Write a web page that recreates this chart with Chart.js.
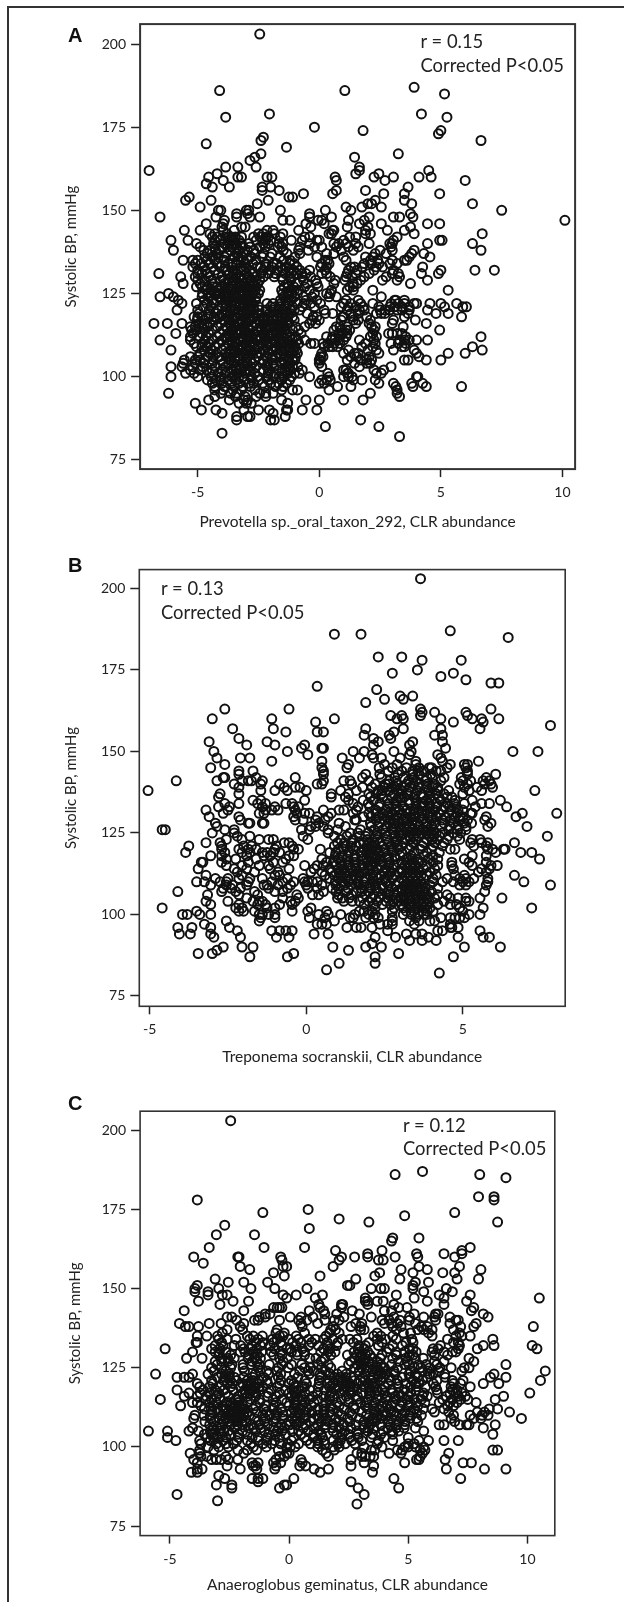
<!DOCTYPE html>
<html><head><meta charset="utf-8">
<style>
html,body{margin:0;padding:0;background:#fff;width:624px;height:1602px;overflow:hidden}
#page{position:absolute;left:0;top:0;width:624px;height:1602px;filter:blur(0.35px)}
canvas{position:absolute;left:0}
.line{position:absolute;background:#333}
.t{position:absolute;font-family:Lato,sans-serif;font-size:18.4px;color:#222;white-space:nowrap;line-height:1;transform:translateY(-50%)}
.p{position:absolute;font-family:"Liberation Sans",sans-serif;font-weight:bold;font-size:20px;color:#111;line-height:1;transform:translateY(-50%)}
</style>
<script src="https://cdn.jsdelivr.net/npm/chart.js@4/dist/chart.umd.min.js"></script>
</head><body><div id="page">
<div class="line" style="left:7px;top:6px;width:2px;height:1596px"></div>
<div class="line" style="left:7px;top:6px;width:617px;height:2px"></div>
<div class="p" style="left:68px;top:34.5px">A</div>
<div class="p" style="left:68px;top:565px">B</div>
<div class="p" style="left:68px;top:1103px">C</div>
<canvas id="ca"></canvas><canvas id="cb"></canvas><canvas id="cc"></canvas>
<div class="t" style="left:420.5px;top:40.5px">r = 0.15</div>
<div class="t" style="left:420.5px;top:64.5px">Corrected P&lt;0.05</div>
<div class="t" style="left:161px;top:588px">r = 0.13</div>
<div class="t" style="left:161px;top:612px">Corrected P&lt;0.05</div>
<div class="t" style="left:403px;top:1125px">r = 0.12</div>
<div class="t" style="left:403px;top:1148px">Corrected P&lt;0.05</div>
</div>
<script>
// Each row: first number = systolic BP (mmHg), the rest = CLR abundance of each sample at that BP.
const rowsA=[[203,-2.45],[187,3.9],[186,-4.1,1.05],[185,5.15],[179,-2.05,4.2],[178,-3.85,5.25],[175,-0.2],[174,1.8,5],[173,4.9],[172,-2.3],[171,-2.4,6.65],[170,-4.65],[169,-1.35],[167,-2.4,3.25],[166,-2.65,1.45],[165,-2.85],[163,-3.85,-3.35,-2.6,1.65],[162,-7,1.65,4.5],[161,-4.2,1.5,2.45],[160,-4.55,-3.35,-3.2,-2.15,-1.95,0.65,2.25,3.05,4.1,4.6],[159,-3.95,0.7,2.7,6],[158,-4.65],[157,-4.4,-3.7,-2.35,-2,3.65],[156,-2.35,-1.65,0.7,1.9],[155,-0.65,0.55,2.65,3.5,4.95],[154,-5.35,-1.25,-1.1],[153,-5.5,-4.45,-2.1,2.3,3.5],[152,-2.55,2,2.15,3.8,6.3],[151,-4.9,1.1,1.75,2.55],[150,-4.15,-4.05,-3,-2.9,-1.6,0.25,1.3,7.5],[149,-3.4,-2.95,-0.4,3.75],[148,-6.55,-4.25,-3.4,-2.85,-2.45,-0.4,0.5,2.05,3.05,3.3,3.85],[147,-3.9,-1.5,-1.2,-0.05,0.1,1.2,1.85,10.1],[146,-4.65,-3.95,-0.55,0.2,1.65,2.55,4.45,4.95],[145,-4,-3.2,-3.05,-0.35,1.15,2,3.75],[144,-5.55,-4.9,-3.95,-3.5,-2.15,-1.9,-0.85,0.55,0.6,1.9,2.8,3.5],[143,-4.5,-4.3,-3.8,-2.5,-2.3,-1.85,-1.5,0.4,0.5,1.9,2.1,3.9,6.7],[142,-4.4,-4.2,-3.85,-3.6,-3.45,-3.2,-2.7,-2.2,-2.1,-1.6,-0.6,-0.4,1.25,1.5,3.2,-3.72,-2.44],[141,-6.1,-5.4,-4.3,-4.1,-3.75,-3.5,-3.3,-2.6,-2.2,-2,-1.15,-0.7,-0.1,0,1,3.05,4.95,5.05,-3.62,-2.32],[140,-5.05,-4.35,-3.9,-3.7,-3.45,-3.2,-2.9,-2.3,-2.1,-1.65,-1.5,-0.4,0.6,0.8,1.1,1.5,2.05,2.9,3,4.45,6.3,-3.57],[139,-4.9,-4.3,-4,-3.6,-3.4,-3.15,-2.85,-2.45,-1.7,-1.55,-0.8,-0.2,0.1,0.7,1.2,1.6,2.95,-3.78,-2.22],[138,-6,-4.75,-4.5,-4.1,-3.65,-3.3,-2.95,-2.7,-0.85,-0.45,0.9,1.4,2.5,3,3.9,6.65,-4.27,-1.48],[137,-4.6,-4.2,-3.8,-3.4,-2.65,-2.3,-1.95,-0.8,0.3,0.6,2.3,2.75,3.8,4.3,-3.12,-1.33],[136,-4.4,-3.9,-3.5,-3.15,-2.8,-1,-0.1,1,1.9,2.2,3.7,4.55,-4.71,-3.33,-1.62],[135,-5.6,-5.2,-5,-4.3,-3.9,-3.35,-2.95,-1.2,0.25,0.35,1.1,2.1,2.4,3,3.5,3.6,-4.62,-3.12,-2.61,-1.47],[134,-5.1,-4.85,-4.2,-3.75,-3.4,-3.05,-1.9,-1.75,0.1,0.4,1.85,2.15,2.45,2.9,3.2,-4.53,-3.58,-2.73,-2.2],[133,-5.2,-4.75,-4.1,-3.6,-3.2,-2.2,-1.95,-1.6,-1.35,0.05,0.3,1.3,1.45,1.75,2.35,2.6,4.25,-4.38,-3.02,-2.56],[132,-5,-4.7,-4.3,-3.85,-3.55,-3.1,-2.3,-2,-1.75,-1.5,-1.05,-0.8,-0.4,0.25,1.2,1.55,2.25,3.05,5,6.4,7.2,-3.23,-2.84,-1.22],[131,-6.6,-5,-4.6,-4.15,-3.7,-3.4,-3,-2.4,-2.1,-1.8,-1.4,-0.95,-0.55,0.1,0.3,1.15,1.5,2.05,3,3.25,4.2,4.9,-3.53,-2.71],[130,-5.7,-5.1,-4.55,-4,-3.6,-3.25,-2.9,-2.3,-1.85,-1.55,-0.7,-0.35,0.45,1.1,1.35,1.85,2.75,3.3,-3.44,-2.63,-1.21],[129,-5,-4.45,-4.05,-3.5,-3.2,-2.8,-2.45,-1.5,-0.65,-0.15,0.65,1.05,1.7,2.6,3.2,4.45,-3.73,-2.97,-2.61],[128,-5.6,-4.9,-4.4,-3.9,-3.55,-3.1,-2.7,-1.3,-0.9,-0.5,-0.1,0.6,1.4,1.55,3.75,-3.26,-2.88,-2.53],[127,-5.05,-4.6,-4.2,-3.75,-3.35,-3,-2.6,-1.45,-1.05,-0.6,-0.05,1.25,1.4,-3.57,-3.12,-2.82,-4.02],[126,-4.65,-4.2,-3.6,-3.2,-2.8,-2.45,-1.55,-1.2,-0.85,-0.4,0.5,1.15,1.4,2.2,5.3,-3.41,-2.97,-2.63,-3.87],[125,-6.2,-4.8,-4.3,-3.95,-3.5,-3.15,-2.75,-2.5,-1.5,-1.3,-0.9,-0.2,0.3,0.45,-3.72,-3.3,-2.93,-4.13],[124,-6.55,-6,-4.55,-4.15,-3.7,-3.4,-3,-2.6,-1.25,-0.65,-0.3,0.4,0.7,2.55,-3.53,-3.17,-2.81,-3.89],[123,-5.8,-4.4,-4,-3.5,-3.2,-2.85,-1.6,-1.15,-0.55,-0.1,1.1,1.6,3.1,3.15,3.5,-3.71,-3.02,-2.62,-4.22],[122,-5.65,-5.05,-4.35,-3.85,-3.45,-3.1,-2.75,-2.15,-1.9,-1.3,-0.9,-0.35,0.05,1,1.3,1.7,2.2,2.95,3.25,3.5,3.9,4,4.55,5,5.65,-3.62,-3.27,-2.93],[121,-4.45,-4,-3.6,-3.3,-2.9,-2.5,-2,-1.65,-1.1,-0.7,-0.2,0.9,1.2,1.5,1.8,2.45,2.9,3.1,3.4,3.7,5.15,5.9,6.05,-3.82,-3.14,-2.71],[120,-5.85,-5,-4.2,-3.8,-3.5,-3.05,-2.7,-2.2,-1.9,-1.5,-1.2,-0.8,0.2,1.15,1.65,1.85,2.5,2.7,2.9,3.2,3.4,3.7,4.45,-3.33,-2.88,-2.47],[119,-4.95,-4.5,-4,-3.65,-3.35,-2.9,-2.5,-2.05,-1.7,-1.4,-0.5,0.25,0.55,1.3,1.6,2.35,2.55,2.7,3.65,4.8,5.3,-3.83,-3.12,-2.71],[118,-5.15,-5,-4.55,-4.1,-3.75,-3.4,-3.1,-2.7,-2.3,-1.9,-1.55,-1.1,-0.25,-0.1,0.95,1,1.4,1.95,3.5,5.85,-3.57,-2.91,-2.1,-4.33],[117,-4.75,-4.3,-3.9,-3.55,-3.2,-2.85,-2.5,-2.1,-1.75,-1.3,-0.3,0,0.9,1.4,1.6,2.1,3.05,3.95,-3.71,-3.03,-2.33,-1.93],[116,-6.8,-6.25,-5.65,-4.95,-4.5,-4.05,-3.7,-3.35,-3,-2.6,-2.25,-1.9,-1.5,-0.4,-0.15,1.5,2.05,3,4.4,-3.52,-3.17,-2.43],[115,-5.3,-5.1,-4.6,-4.2,-3.8,-3.45,-3.15,-2.75,-2.4,-2.05,-1.65,-0.6,0.7,0.85,1.15,2.15,2.3,3.45,-3.62,-2.92,-2.23,-1.85],[114,-5.25,-5.05,-4.4,-3.95,-3.6,-3.25,-2.9,-2.55,-2.2,-1.8,-1.4,-1.1,0.6,0.9,1.1,1.25,2.25,4.95,-3.42,-3.07,-2.38,-2.03],[113,-5.9,-5.2,-4.55,-4.1,-3.75,-3.4,-3.05,-2.7,-2.3,-1.95,-1.55,-0.75,0.8,0.95,1.15,2.2,2.85,3,3.2,3.4,-3.58,-2.87,-2.12,-3.22],[112,-5.3,-4.65,-4.2,-3.85,-3.5,-3.15,-2.8,-2.4,-2.05,-1.7,-1.2,0.3,0.55,0.85,1.1,2.1,2.35,3.55,6.65,-3.67,-2.98,-2.59,-2.23],[111,-6.55,-5.3,-4.4,-4,-3.6,-3.3,-2.95,-2.6,-2.2,-1.85,-1.3,-0.9,-0.6,0.5,0.8,1,1.65,2.25,3.3,3.5,3.7,4,4.45,-3.78,-3.13,-2.43],[110,-5.15,-4.55,-4.15,-3.75,-3.4,-3.05,-2.7,-2.35,-2,-1.55,-1.15,-0.85,-0.35,-0.2,0.15,0.35,0.6,0.85,1.9,2.3,2.95,3.25,3.55,-3.58,-2.87,-2.18],[109,-5.05,-4.6,-4.3,-3.85,-3.5,-3.2,-2.85,-2.5,-2.15,-1.8,-1.4,-1,0.2,0.4,0.55,0.75,1.75,2.2,3.4,3.5,6.3,-3.33,-2.99,-2.67],[108,-6.1,-4.45,-4,-3.65,-3.3,-3,-2.65,-2.3,-1.9,-1.6,-1.05,-0.95,1.2,2,2.35,3.05,3.9,6.7,-3.47,-2.83,-2.12],[107,-4.9,-4.5,-3.85,-3.5,-3.2,-2.8,-2.4,-2.1,-1.7,-0.9,0.1,1,1.45,1.6,2.45,4,5.3,6,-3.68,-3.03,-2.57],[106,-5.3,-5,-4.6,-4.1,-3.65,-3.35,-2.95,-2.55,-2.2,-1.6,-1.25,0.05,0.15,1.3,1.55,2.05,4.1,-3.82,-3.13,-1.93],[105,-5.55,-5.1,-4.9,-4.7,-4.05,-3.7,-3.3,-3,-2.65,-2.3,-1.1,-1,0,0.05,1.15,1.7,1.95,2.15,3.5,3.65,4.4,5,-3.48,-2.83,-1.47],[104,-5.6,-5.1,-4.75,-3.95,-3.5,-3.15,-2.75,-2.35,-1.9,-1.2,0,1.45,1.95,2.1,-3.72,-2.97,-1.55],[103,-6.1,-5.65,-5.2,-4.8,-3.85,-3.45,-3.1,-2.6,-2.15,-1.25,-1.1,0.1,1.65,2.95,-3.27,-2.82,-1.35],[102,-5.3,-4.9,-4.4,-4,-3.6,-3.25,-2.85,-2.3,-1.4,-0.7,1,1.1,2.25,2.65,-3.42,-3.03,-1.19],[101,-5.5,-5.15,-4.5,-3.85,-3.4,-3.05,-2.65,-2.1,-1.55,-1.3,0.35,1.15,1.2,2.35,2.55,-3.67,-1.02],[100,-6.1,-5,-4.45,-4.05,-3.6,-3.3,-2.8,-1.65,-1.45,-1.15,-0.4,0.4,1,1.2,1.35,4,4.05,-3.13],[99,-4.6,-4.25,-3.75,-3.45,-3.1,-2.5,-2.1,-1.55,0.1,0.3,0.45,1.4,1.75,2.3],[98,-4.4,-4,-3.6,-3.3,-2.9,-2.7,-2,-1.35,0,0.2,2.45,3.05,3.8,4.25],[97,-4.3,-3.9,-3.5,-3.15,-2.25,-1.8,0.75,1.3,3.15,3.85,4.4,5.85],[96,-4.3,-3.95,-3.55,-3.2,-2.65,-1.55,-1.1,-0.9,0.4,3.2],[95,-6.2,-4.05,-3.65,-3.4,-2.45,-2.2,-1.9,2.1,3.2],[94,-4.3,-3.45,-3.05,-2.6,-2.2,3.3],[93,-4.55,-3.7,-3.1,-2.95,-1.55,-0.55,0,1,1.8],[92,-5.1,-3.3,-3,-2.8,-1.3],[90,-4.85,-4.25,-3.1,-2.5,-2.05,-1.35,-1.3,-0.7,-0.1],[89,-4,-1.9],[88,-3.4,-2.95,-2.85,-1.4],[87,-3.4,-2,-1.85,1.7],[85,0.25,2.45],[83,-4],[82,3.3]];
const moreA=[[136,-4.15,-2.35,-2.02],[134,-4.48,-1.22,-1.03],[133,-3.86,-2.42,-0.92],[131,-4.83,-1.16,-0.72],[129,-4.72,-3.92,-1.17],[127,-4.82,-4.37,-1.28],[126,-4.42,-1.03],[125,-4.57,-1.12],[124,-4.82,-1.47,-1.03],[123,-4.73,-4.22,-1.38],[122,-4.63,-1.58,-0.62],[121,-4.77,-1.82,-1.38],[120,-4.53,-1.68,-1.03],[119,-4.27,-1.52,-1.18],[118,-4.82,-1.72,-1.32],[117,-5.02,-1.52,-1.03],[116,-4.73,-1.72,-1.27],[115,-4.83,-1.43,-0.97],[114,-4.72,-1.58,-0.85],[113,-4.82,-1.72,-1.32],[112,-4.92,-1.47,-0.98],[111,-4.7,-1.58,-1.1],[110,-4.82,-1.78,-1.33],[109,-4.83,-1.58,-1.18],[108,-4.73,-1.42,-1.22],[107,-4.23,-1.47,-1.12],[106,-4.37,-1.78,-0.98],[105,-4.37,-1.87,-1.28],[104,-4.4,-2.12,-1.42],[103,-4.27,-1.87,-0.88],[102,-4.63,-2.07,-1.67],[101,-4.17,-1.83,-0.82],[100,-2.53,-2.12,-1.9],[99,-4.03,-2.77,-1.22],[98,-2.33,-1.67],[97,-2.83,-1.48]];
const rowsB=[[203,3.65],[187,4.6],[186,0.9,1.75],[185,6.45],[179,2.3,3.05],[178,3.7,4.95],[175,3.55],[174,2.75,4.7],[173,4.3],[172,5.1],[171,5.9,6.15],[170,0.35],[169,2.25],[167,3,3.4],[166,2.5,3.1],[165,1.9],[163,-2.6,-0.55,3.65,5.9],[162,3.7,4.1,5.1],[161,2.7,3.05,3.65,5.15],[160,-3,-1.1,0.9,2.9,3.1,4.3,5.3,5.6,6.15],[159,0.3,4.7,5.65],[158,7.8],[157,-2.35,-1.05,1.9,3.1,4.3,5.55],[156,-0.65,0.35,0.55,2.8],[155,1.85,2.65,4.1,4.35],[154,-2.15,2.15,2.7],[153,-3.1,-1.25,2.3,3.4,4.35],[152,-1.9,-1,-0.05,2.15,3.3],[151,-0.15,0.5,0.55,4.45],[150,-2.95,-0.6,1.5,1.85,2.8,3.35,6.6,7.4],[149,0.05,2.1,3.3,4.2],[148,-2.85,-2.1,-1.8,1.15,1.7,2.15,2.4,3,4.3],[147,-1.1,0.5,3.5,4.35,5.5],[146,-2.6,1.35,2.5,2.9,3.5,4.6,5.05,5.15],[145,-3.05,0.5,1.3,2.75,3.2,3.6,4,4.5,5.1],[144,-2.15,-1.7,0.55,3.05,3.4,3.75,4.15,4.3,5.15],[143,-2.15,0.55,1.9,2.35,3.4,3.6,5.15,6.05],[142,-2.65,-2.6,-1.6,-0.35,1.8,2.4,3.1,3.85,4.4,4.95,5.75],[141,-4.15,-2.85,-2.05,-1.85,-1.75,-1.4,0.55,1.2,1.4,2,2.65,3.5,4.3,5,5.25,5.65,5.85],[140,-2.3,-1.45,-0.85,0.35,0.5,1.45,2.2,2.9,3.2,3.6,4.1,4.9,5.15,5.7,5.9,2.53],[139,-2.15,-0.7,-0.35,-0.2,1.8,2.1,2.5,2.85,3.3,3.85,4.2,5.05,5.45,5.95,3.57],[138,-5.05,-1.45,-1,-0.6,0,1.1,1.6,2.3,2.65,3.05,3.55,3.9,4.55,5.2,5.6,7.3,2.92],[137,-2.75,-2.15,0.8,1.35,2,2.4,2.8,3.25,3.7,4.15,4.4,5,3.48],[136,-2.8,0.8,1.25,2.05,2.45,2.95,3.45,3.95,4.5,4.65,3.13,3.72],[135,-1.7,-1.45,-0.05,1.35,2.15,2.6,3.05,3.5,4,4.3,4.75,5.3,6.2,3.27,3.83],[134,-2.6,-2.15,-1.55,-1.3,-0.65,-0.45,1.5,2.35,2.85,3.3,3.7,4.15,4.5,5.05,5.6,5.85,3.51,3.93],[133,-2.8,-2.45,-1.4,-1,-0.4,-0.25,1.65,2.6,3.1,3.5,3.95,4.4,4.8,5.4,6.4,2.33,3.72,4.17],[132,-3.2,-2.5,-1.3,-1.1,-0.9,-0.35,0.55,1.05,1.2,1.6,2.55,2.85,3.2,3.6,3.85,4.1,4.35,4.6,5,2.97,3.43],[131,-2.65,-1.5,-1.35,-0.3,-0.05,0.1,0.8,1.5,2,2.45,2.75,3.05,3.45,3.7,3.95,4.25,4.55,5.25,5.3,6.9,8,2.62,3.23],[130,-3.1,-2.15,-0.4,0.35,0.7,2.3,2.6,2.9,3.15,3.35,3.6,3.9,4.15,4.45,4.75,5,5.75,6.7,3.48,4.03],[129,-2.1,-0.35,-0.1,0.3,0.6,1.55,1.6,2.5,2.8,3.1,3.4,3.7,4,4.35,4.6,4.9,5.7,2.68,3.22],[128,-2.9,-1.85,-1.8,-1.4,-1.35,0.4,1.05,2.35,2.65,2.95,3.2,3.55,3.85,4.1,4.4,4.7,5.05,5.9,2.82,3.38],[127,-2.85,0.15,0.3,0.55,1.25,2.3,2.55,3,3.3,3.6,4,4.3,4.6,5.1,5.8,7.05,2.77,3.13,3.83],[126,-4.6,-4.5,-2.6,-2.3,-0.15,0.1,0.7,1,2.45,2.75,3.05,3.4,3.7,4.05,4.55,5.1,3.21,3.57,3.87],[125,-3,-2.3,0.7,1.4,1.65,2.8,3.1,3.35,3.65,4,4.35,4.7,2.97,3.52,3.84,4.15],[124,-2.2,-1.8,-0.1,0.9,1.3,1.7,1.9,3,3.3,3.6,3.95,4.25,4.55,7.7,2.82,3.45,4.07],[123,-2.55,-2.05,-1.5,-1.2,-1.05,0.05,1.1,1.5,1.95,2.9,3.15,3.5,3.85,4.2,4.5,4.9,5.3,5.55,3.33,4.03],[122,-3.2,-2.75,-0.7,-0.55,1,1.45,1.7,2,2.35,2.85,3.1,3.4,3.75,4.1,4.4,5.25,5.6,5.8,6.65,1.83,2.17],[121,-3.75,-2.7,-2,-1.75,-0.95,-0.45,0.9,1.25,1.6,1.95,2.2,2.7,3.05,3.35,3.7,4.05,4.35,5.35,5.75,2.08,2.43],[120,-2.7,-2.15,-1.85,-1.6,-1,-0.4,-0.25,0.45,1.2,1.5,1.85,2.1,2.5,2.95,3.3,3.65,4,4.6,4.75,5.8,5.95,6.3,6.35,1.97,2.27],[119,-3.85,-2.6,-2.05,-1.8,-1.4,-1.25,-1.05,-0.85,0.75,0.95,1.35,1.75,2.05,2.3,2.75,3.05,3.45,3.85,4.25,6.05,6.85,7.2,1.93,2.47],[118,-3.05,-2.7,-1.9,-1.35,-1.15,-0.55,-0.4,1.15,1.55,2,2.2,2.6,3,3.35,3.75,4.05,5.3,5.75,1.77,2.37],[117,-2.55,-2.25,-1.6,-0.65,0.5,1.3,1.8,2.1,2.35,2.85,3.2,3.55,3.9,4.2,5.05,7.45,1.93,2.23,3.38],[116,-3.35,-3.3,-2.7,-1.85,-1.05,-0.75,0.65,1.1,1.55,1.95,2.2,2.65,3.05,3.4,3.7,4.05,4.65,5.2,5.75,2.07,3.23,3.57],[115,-2.55,-2.05,-1.5,-1.2,-0.05,0.35,0.55,0.95,1.35,1.8,2.1,2.4,2.8,3.15,3.5,3.85,4.2,4.65,5.3,5.9,6.1,1.97,3.33],[114,-3.45,-2.3,-1.9,-1.15,-0.55,0.25,0.75,1.2,1.6,2,2.3,2.75,3.05,3.4,3.75,4.1,4.7,5.6,5.85,1.83,3.23,3.58],[113,-2.2,-1.65,-0.9,0.15,0.5,1.05,1.5,1.85,2.15,2.5,2.95,3.25,3.6,3.95,5.5,5.75,3.07,3.42],[112,-3.2,-2.05,-1,-0.85,0.6,0.9,1.3,1.7,2.05,2.4,2.85,3.15,3.5,3.85,4.15,4.75,5.05,6.65,3.33,3.67],[111,-2.9,-2.5,-2.15,-1.8,-1.4,-0.6,-0.1,0.75,1.25,1.6,1.9,2.3,2.75,3.05,3.4,3.75,4.05,4.5,4.9,5.1,5.35,5.8,3.23,3.57],[110,-3.5,-3.25,-2.75,-2.55,-1.85,-1.1,-0.75,-0.4,-0.05,0.05,0.2,0.35,1.35,1.65,2.15,2.55,2.95,3.3,3.65,4.05,4.35,4.7,5,5.2,5.8,6.95,3.12,3.47],[109,-3.05,-2.55,-2.35,-1.9,-1.35,-1.25,-0.9,-0.5,0,0.5,0.95,1.45,1.85,2.2,2.85,3.15,3.5,3.95,4.9,5.1,5.75,7.8,2.03,3.33,3.72],[108,-2.65,-2.4,-2.1,-1.2,-0.6,0.05,0.35,1.05,1.75,2.05,2.45,3.05,3.4,3.8,4.2,2.23,3.22,3.63],[107,-4.1,-2.7,-2.25,-1.65,-1,-0.75,0.55,0.95,1.6,2,2.3,2.9,3.25,3.6,4,5.7,3.07,3.43,3.78],[106,-3.15,-2.15,-1.55,-0.3,0.2,0.4,1.45,1.9,2.15,2.8,3.1,3.5,3.85,4.2,4.5,3.28,3.67],[105,-1.9,-0.75,-0.25,1,1.15,1.8,2.1,2.6,3,3.3,3.7,4.1,4.6,4.85,5.1,5.55,6.25,3.13,3.52,3.88],[104,-3.2,-2.5,-1.7,-1.5,-1.4,-0.5,-0.35,1.2,1.7,2,2.55,2.95,3.35,3.75,4.4,5.1,5.2,3.13,3.57,3.93],[103,-3.05,-2.15,-1.55,-1.3,-0.85,-0.45,1.85,2.7,3.05,3.45,3.85,4.2,4.6,4.8,3.27,3.67],[102,-4.6,-2.25,-2.05,-1.25,-1,0.15,2.2,2.8,3.1,3.55,3.95,4.9,5.65,7.2,3.33,3.77],[101,-3.5,-2.15,-2,-1.65,-0.45,0.05,0.65,1.7,1.85,2.1,2.75,3.2,3.7,4.05,5,3.43,3.87],[100,-3.95,-3.8,-3.4,-3.05,-1.5,-1.4,-1.2,-1,0.4,0.7,1.1,1.55,2,2.2,3.1,3.35,3.75,3.85,5.2,5.55,3.57],[99,-1.45,-1,0.1,0.6,1.4,1.5,1.9,2.15,2.3,2.75,3.5,4.3,4.6,4.75,4.9,5.05],[98,-2.55,-1.5,0.9,2.75,3.3,3.6,3.95,4.1],[97,-3.25,0.35,0.5,0.65,2.35,2.6,2.75,3.45,4.6],[96,-4.1,-3.65,-3.05,-2.45,1.3,1.6,1.75,2.1,4.6,4.65,4.85],[95,-2.2,-1.1,-0.85,-0.65,-0.45,2.6,4.2,4.35,5.55],[94,-4.05,-3.7,-3.05,0.25,0.7,3.2,3.5,3.7],[93,-2.95,-2.1,-0.95,-0.55,2.2,2.85,3.9,4.85,5.65,5.85],[92,3.3,3.7,4.15],[91,2.1],[90,-2.65,-2.05,-1.7,0.85,1.9,2.4,5.05,6.2],[89,-2.85,1.35],[88,-3.45,-3,-0.4,2.95],[87,-1.8,-0.6,2.2,4.7],[85,1.05,2.2],[83,0.65],[82,4.25]];
const moreB=[[145,2.33,3.93],[144,2.62,3.57],[143,2.93,3.98],[142,2.83,3.42,4.02],[141,2.87,3.27,3.82],[140,2.63,3.42,3.87],[139,2.73,3.13,4.03],[138,2.43,3.27,4.2],[137,2.23,3.03,3.93],[136,2.73,4.23],[135,1.82,2.88],[134,1.98,2.63,4.73],[133,2.03,2.87,4.58],[132,2.23,4.85],[131,2.23,4.83],[130,1.83,2.07,4.92],[129,2.23,5.15],[128,2.05,5.28],[127,2.07,4.85],[126,2.17,1.73,4.83],[125,2.53,1.97,2.27,4.93],[124,2.23,2.57,4.83],[123,2.27,2.57],[122,1.22,2.62],[121,1.42,2.92],[120,1.03,2.73],[118,0.93,1.33,2.83],[117,1.03,1.57,2.63],[116,0.87,1.33,2.43],[115,1.13,1.57,2.63],[114,1.03,1.42,2.53],[113,0.82,1.23,1.67,2.72],[112,1.1,1.52,2.23,2.63],[111,1.03,1.43,2.13,2.53],[110,0.93,1.13,1.83],[109,1.23,1.67,2.43,2.63],[108,0.83,1.33,2.73],[107,1.27,1.77,2.63],[106,1.03,2.43,2.63],[105,1.37,2.33,2.83],[104,1.47,2.27,2.77],[103,2.17,2.43]];
const rowsC=[[203,-2.45],[187,5.6],[186,4.45,8],[185,9.1],[179,7.95,8.6],[178,-3.85,8.6],[175,0.8],[174,-1.1,6.95],[173,4.85],[172,2.1],[171,3.35,8.75],[170,-2.7],[169,0.85],[167,-3.05,-1.45],[166,4.35,5.45],[165,4.3],[163,-3.35,-1.05,0.65,7.6],[162,1.95,3.9,7.25],[161,3.3,5.35,6.5,7.25],[160,-4,-2.15,-2.1,-0.35,2.2,2.75,3.3,4.45,5.4,6.95],[159,-0.3,2.1,3.75,3.95],[158,-3.6],[157,-2.05,-0.25,-0.1,1.85,5.45,7.15],[156,-1.65,4.7,5.8,8.05],[155,-0.65,3.8,5.2,6.45,6.95],[154,-0.2,1.3,3.6],[153,-3.1,2.8,4.65,7.05,7.95],[152,-2.55,-1.9,-0.9,5.3,5.85],[151,-3.85,2.45,2.55,5.2],[150,-3.95,-2.95,-1.6,-0.6,0.75,3.45,3.85,4,5.2,6.6],[149,-3.95,-3.4,5.65,6.85],[148,-3.4,-2.8,-2.6,-0.25,0.3,1.4,4.5,6.3,7.6],[147,-0.1,1.1,3.2,5.25,6.5,10.5],[146,-3.8,-2.35,-1.7,3.2,3.3,3.7,3.95,5.8,7.45],[145,-2.9,1.25,2.2,2.25,3.3,4.4,6.5],[144,-0.65,-0.5,-0.4,-0.3,1.3,2.2,4.6,4.95,7.75],[143,-4.4,-1.9,0.85,1.45,2.65,4,4.3,7.65],[142,-1,-0.8,1.5,2,2.95,5.25,6.15,6.25,8.15],[141,-2.6,-2.4,-1.25,-1,0.05,0.5,1,2.3,3.45,4.4,5.05,5.65,6.1,6.75,8.35],[140,-2.2,-1.45,-1.3,-0.4,0.4,0.75,1.5,1.9,2.1,3.9,4.2,4.65,5.05,6.15,7,7.1],[139,-4.6,-3.35,-2.85,-1.9,0.5,1.2,2.8,3.05,4,4.3,4.55,5.3,6.75,7.85],[138,-4.35,-4.2,-3.8,-2.05,0.55,1.85,2.6,3,4.35,4.7,5.55,5.8,7.2,7.75,10.25],[137,-2.6,-1.95,-0.5,1.75,1.95,3,3.15,4.5,5.4,5.65,6,6.9],[136,-2.8,-0.55,-0.2,0.65,1.7,2.1,3.7,4.8,5.1,5.85,7.15],[135,-3.85,-3.45,-3,-1.75,-1.5,-0.4,-0.25,0.3,1.55,3.55,3.85,4.35,6,7,7.25,7.6,-1.12],[134,-2.95,-2.6,-1.65,-1.3,-0.7,-0.5,0,0.4,1.1,1.45,2.55,2.85,3.7,4.05,4.5,5.15,6.65,8.55,2.23],[133,-3.9,-3.85,-1.4,-1.1,-0.65,-0.35,0.15,0.5,0.95,1.6,2.05,2.7,3.35,3.9,4.9,5.2,6.9,7.1,-2.83],[132,-3.1,-2.3,-1.55,-1.2,-0.8,-0.3,0.3,1.6,2,3.2,3.75,4.35,4.75,6.35,7.15,8.15,8.6,10.2,-2.77,2.93],[131,-5.2,-3.25,-2.9,-1.9,-1.35,-0.6,-0.1,0.05,0.55,1.45,2.9,3.15,4.2,5.05,5.2,6.05,6.25,7.1,7.9,10.4,-1.62,1.72],[130,-4.05,-3.1,-2.65,-2.05,-1.85,-1.15,-0.75,-0.35,0.1,0.65,1.65,2.95,3.3,4.1,4.5,4.85,6,6.5,6.85,7,-1.52,1.93,2.73],[129,-2.95,-2.45,-1.7,-0.65,-0.3,0.35,0.65,1.75,2.45,3.05,3.4,3.9,4.5,5.05,5.2,6.1,6.65,-1.33,2.83,3.22],[128,-4.3,-3.65,-2.8,-2.3,-1.45,-1.2,-0.4,1.5,2.75,3.2,3.5,4.35,4.9,5.3,7.55,-1.72,2.98,3.83],[127,-3.1,-2.55,-1.55,-1.35,-0.25,1.35,2.6,2.95,3.35,3.7,4.6,4.95,6.1,6.5,7.75,-2.83,3.13],[126,-2.4,-1.6,-1.25,-0.3,0.1,1.2,1.65,2.5,3.1,3.5,3.85,4.3,4.85,5.75,6.2,9.1,-3.02,2.87],[125,-3.25,-2.85,-2.45,-1.3,-0.45,0.65,0.9,1.75,2.75,3.3,3.7,4,4.55,5.25,5.9,6.8,7.35,7.55,3.03,3.93],[124,-3.15,-2.65,-1.2,-0.5,0.45,0.8,1.05,2.95,3.5,3.8,4.1,4.4,5.1,5.6,6.3,7.25,10.75,3.23,3.67],[123,-5.6,-4.05,-3.4,-2.5,-0.35,0.85,1.3,2.4,3.2,3.75,4.05,4.45,5.3,5.9,6.05,8.6,-2.83,3.87,2.03],[122,-4.7,-4.4,-4.2,-3,-2.7,-2.3,-1.9,-0.45,1.9,2.15,2.6,3.1,3.55,3.95,4.2,4.75,5.4,5.8,6.55,8.45,9.1,-1.53,2.37,3.73],[121,-3.25,-2.75,-2.2,-1.75,-1.5,-0.35,0.1,1.7,2.05,2.4,2.75,3,3.45,3.85,4.55,5.2,5.6,6.2,6.85,7.3,10.55,-1.27,2.23,3.18],[120,-3.85,-3.2,-2.6,-1.95,-1.6,-1.3,-0.9,-0.4,0,0.2,1.6,1.85,2.25,2.55,2.9,3.3,3.6,4.15,4.9,5.3,5.45,6.05,6.9,7.2,8.15,8.8,-1.73,2.43,3.47],[119,-3.75,-2.9,-2.45,-2.05,-1.75,-1.45,-1.1,-0.5,0.55,0.65,1.7,2.1,2.35,2.7,3.15,3.55,4,4.6,5.1,5.35,6.15,6.8,7.6,-1.27,2.53,3.37],[118,-4.7,-3.6,-3.1,-2.35,-1.85,-1.55,-1.25,-0.75,-0.15,0.4,1.5,1.95,2.3,2.85,3.4,3.7,4.3,4.85,6.2,6.85,7.05,-1.68,2.57,3.93],[117,-4.2,-3.35,-2.95,-2.65,-1.95,-1.65,-1.4,-0.4,0,0.25,1.2,1.75,2.15,2.6,3.05,3.6,4,4.6,5.1,5.65,6.75,7,7.25,10.1,-1.83,3.37],[116,-4.4,-3.85,-3.05,-2.55,-1.75,-1.4,-0.9,-0.55,0.1,0.5,1,1.45,1.9,2.4,3.4,3.75,4.1,4.45,5,5.6,5.8,6.6,7.1,7.4,9,-2.13,2.87],[115,-5.4,-3.5,-3.25,-2.9,-1.6,-1.25,-0.3,0.35,0.85,1.2,1.7,2.2,2.85,3.3,3.7,4.05,4.5,4.95,5.55,6.45,6.85,7.2,7.5,8.65,-2.23,2.52],[114,-4.05,-3.85,-3.05,-2.45,-2.15,-1.75,-0.55,-0.1,0.65,1.05,1.55,2,2.5,3,3.6,3.95,4.35,4.75,5.35,5.7,6.3,6.75,7.05,7.85,-2.62,3.27],[113,-4.55,-3.7,-2.8,-2.5,-2.25,-1.95,-1.4,-0.65,0,0.55,0.95,1.45,2.1,2.7,3.2,3.55,3.9,4.3,5,5.4,6.65,6.9,-2.37,-2.07,4.12],[112,-3.55,-3,-2.75,-2.4,-2.15,-1.85,-1.5,-1.05,-0.35,0.2,0.75,1.2,1.85,2.3,2.75,3.3,3.8,4.2,4.65,5.25,6,6.5,8.4,8.75,-2.62,-1.97,3.57],[111,-2.95,-2.55,-2.3,-2.05,-1.75,-1.35,-0.95,-0.5,0.1,0.4,0.95,1.45,2.05,2.55,3.05,3.65,3.95,4.4,4.85,5.1,6.1,6.7,7.9,8.2,9.25,-2.43,-1.88,4.27],[110,-3.95,-3.3,-2.8,-2.5,-2.15,-1.9,-1.1,-0.8,-0.25,0.25,0.7,1.2,1.75,2.2,2.65,3.25,3.7,4.1,4.5,5.05,5.55,6.9,7.6,8.1,8.35,-2.33,-1.67,3.93],[109,-4,-3.3,-2.65,-2.35,-2,-1.45,-1,-0.55,0.15,0.65,1.05,1.55,1.95,2.45,2.95,3.5,3.85,4.3,4.7,5.35,6.8,7.75,8.05,9.75,-2.52,-2.13,3.67],[108,-3.15,-2.75,-2.2,-1.8,-1.3,-0.65,0,0.45,0.9,1.35,2.1,2.55,3.15,3.6,4.15,4.6,5.4,6.95,-2.48,-1.97,3.37],[107,-2.9,-2.45,-1.95,-1.55,-0.9,-0.35,0.3,0.7,1.2,1.85,2.3,2.8,3.4,3.85,4.25,4.85,6.3,6.5,7.15,7.45,7.55,8.65,-2.17,3.13],[106,-4.05,-2.85,-2.3,-1.7,-1.2,-0.65,-0.2,0.6,1.05,1.5,2.1,2.6,3.15,3.55,4.15,4.5,5.3,8.15,3.33],[105,-5.9,-5.1,-4.2,-3.8,-3.3,-2.55,-1.95,-1.4,-0.5,-0.3,0.4,0.8,1.25,1.85,2.85,3.3,3.95,4.6,5.65,-2.73],[104,-3.55,-3.15,-2.85,-2.45,-1.75,-0.85,-0.15,0.5,1.35,2,2.5,2.9,3.5,3.85,4.35,8.55,-3.27],[103,-5.1,-3.45,-3,-2.65,-1.55,-1.3,-0.4,0.2,0.65,1.4,2.2,2.9,3.45,4,5,-3.17],[102,-4.75,-3.75,-3.3,-2.2,-1.75,-1.3,-0.6,0.1,0.75,1.2,1.85,2.15,3.05,3.75,4.35,5.45,5.85,6.5,7.1],[101,-3.7,-3.05,-2.65,-1.6,-1.1,-0.35,-0.05,0.4,0.9,1.5,2.05,2.35,3.7,5,5.25],[100,-3.4,-2.95,-2.55,-1.5,-0.95,-0.1,0.05,0.25,1.2,1.85,2.1,3.15,3.9,4.85,5,5.3,5.65],[99,-3.75,-3.15,-2.15,-1.75,-1.35,-0.45,1.4,1.9,3.45,3.6,4.55,4.75,5.5,5.7,8.55,8.75],[98,-4.15,-3.75,-1.9,-0.1,0,1.55,2.85,3.05,4.2,4.7,5.6,6.7],[97,-3.7,-3.45,-2.65,-0.4,-0.2,1.65,3.05,3.2,3.4,3.55,5.5],[96,-4,-3.25,-3.05,-2.85,-2.55,-2.15,-0.55,0.5,2.6,5.35,5.45,6.55],[95,-3.85,-1.55,-1.3,-0.65,-0.35,0.55,3.15,4.85,7.3,7.65],[94,-2.6,-1.5,-1.4,-0.55,0.45,0.7,2.6,3.55],[93,-3.85,-3.65,-2.05,-1.35,-0.6,1.05,1.65,6.6,8.2,9.1],[92,-4.1,-3.85,1.3,3.5],[91,-2.95],[90,-2.7,-1.55,-1.3,-1.1,0.2,4.4,7.2],[89,-1.3,2.6],[88,-3.05,-2.4,-0.2,-0.1],[87,-2.4,-0.4,2.9,4.6],[85,-4.7,3.15],[83,-3],[82,2.85]];
const moreC=[[134,-2.23,0.83,1.83],[132,-2.03,0.83,1.23],[130,-2.93,0.33,1.33,5.33],[128,-2.57,-0.07,0.87,1.13,5.63],[126,-1.93,-0.83,0.53,5.03,5.43],[125,-1.93,-0.03,1.37,5.53,6.33],[124,-1.87,-0.93,1.53,2.23,5.83],[123,-1.42,-0.87,0.23,1.73,5.03,6.53],[122,-2.53,-1.07,0.37,1.33,5.07],[121,-2.47,-0.93,0.67,1.27,4.27],[120,-2.37,0.73,1.27,4.53],[119,-3.33,0.23,1.23,5.73],[118,-2.73,0.13,0.87,5.33],[117,-3.73,-0.87,0.67,4.33,6.23],[116,-3.47,0.27,1.7,4.73],[115,-2.13,-0.67,0.57,5.23],[114,-3.33,-1.23,0.23,5.07],[113,-3.17,-0.97,0.27,1.73,4.67],[112,-3.27,-0.67,0.47,1.47,5.63],[111,-3.23,-0.27,0.67,1.73,5.37],[110,-3.57,-0.53,0.47,1.47,4.77],[109,-2.93,-0.27,0.33,1.27,5.07],[108,-3.53,-1.03,0.23,1.63,4.87],[107,-3.33,-1.23,0.03,1.53,4.53],[106,-3.17,-1.47,-0.43,1.83,4.83],[105,-2.93,-1.03,0.13,2.33,4.33],[104,-2.13,-0.57,1.03,2.23],[103,-2.13,-0.93,1.03,2.57],[102,-2.77,-0.93,1.47,2.63],[101,-2.33,-0.73,1.23,2.77]];

const bpTicks=[75,100,125,150,175,200];
const xTicksA=[-5,0,5,10];
const xTicksB=[-5,0,5];
const xTicksC=[-5,0,5,10];
const xTitleA="Prevotella sp._oral_taxon_292, CLR abundance";
const xTitleB="Treponema socranskii, CLR abundance";
const xTitleC="Anaeroglobus geminatus, CLR abundance";
const yTitle="Systolic BP, mmHg";

const toPoints=rows=>rows.flatMap(([y,...xs])=>xs.map(x=>({x,y})));
const ink='#111';
const frame={id:'frame',afterDatasetsDraw(c){const a=c.chartArea,g=c.ctx;g.save();g.strokeStyle='#333';g.lineWidth=c.options.plugins.frame.w;g.strokeRect(a.left,a.top,a.right-a.left,a.bottom-a.top);g.restore();}};

function panel(id,rows,xTicks,xTitle,o){
  const cv=document.getElementById(id);
  cv.style.top=o.top+'px';
  cv.width=624;cv.height=Math.round(o.titleY+10-o.top);
  cv.style.width='624px';cv.style.height=cv.height+'px';
  const font={family:'Lato',size:14};
  new Chart(cv,{type:'scatter',
    data:{datasets:[{data:toPoints(rows),borderColor:ink,backgroundColor:'transparent',borderWidth:2,pointRadius:4.5,pointHoverRadius:4.5}]},
    plugins:[frame],
    options:{responsive:false,animation:false,events:[],
      layout:{padding:{left:0,right:624-o.right,top:o.plotTop-o.top,bottom:0}},
      plugins:{legend:{display:false},tooltip:{enabled:false},frame:{w:o.w}},
      scales:{
        x:{type:'linear',min:o.xmin,max:o.xmax,
          afterBuildTicks(s){s.ticks=xTicks.map(v=>({value:v}));},
          afterFit(s){s.height=o.top+cv.height-o.plotBottom;},
          border:{display:false},
          grid:{drawOnChartArea:false,drawTicks:true,tickLength:8,color:'#222',tickWidth:1.5},
          ticks:{color:'#222',font,padding:7,maxRotation:0,autoSkip:false,callback:v=>String(v)},
          title:{display:true,text:xTitle,color:'#222',font:{family:'Lato',size:15.5},padding:{top:0,bottom:1}}},
        y:{type:'linear',min:o.ymin,max:o.ymax,
          afterBuildTicks(s){s.ticks=bpTicks.map(v=>({value:v}));},
          afterFit(s){s.width=o.left;},
          border:{display:false},
          grid:{drawOnChartArea:false,drawTicks:true,tickLength:9,color:'#222',tickWidth:1.5},
          ticks:{color:'#222',font,padding:5,autoSkip:false,callback:v=>String(v)},
          title:{display:true,text:yTitle,color:'#222',font:{family:'Lato',size:15},padding:{top:o.yTitleX-9,bottom:0}}}
      }}});
}
panel('ca',rowsA.concat(moreA),xTicksA,xTitleA,{top:0,left:140.1,right:575.1,plotTop:24.1,plotBottom:469.1,titleY:521.8,xmin:-7.37,xmax:10.52,ymin:72.2,ymax:206,w:2,yTitleX:71.6});
panel('cb',rowsB.concat(moreB),xTicksB,xTitleB,{top:530,left:139.3,right:565.2,plotTop:569.6,plotBottom:1006.3,titleY:1057,xmin:-5.33,xmax:8.27,ymin:71.8,ymax:205.8,w:1.6,yTitleX:71.6});
panel('cc',rowsC.concat(moreC),xTicksC,xTitleC,{top:1062,left:140.1,right:554.8,plotTop:1111.2,plotBottom:1535.6,titleY:1584.5,xmin:-6.25,xmax:11.15,ymin:72,ymax:206,w:1.6,yTitleX:75.6});
</script>
</body></html>
